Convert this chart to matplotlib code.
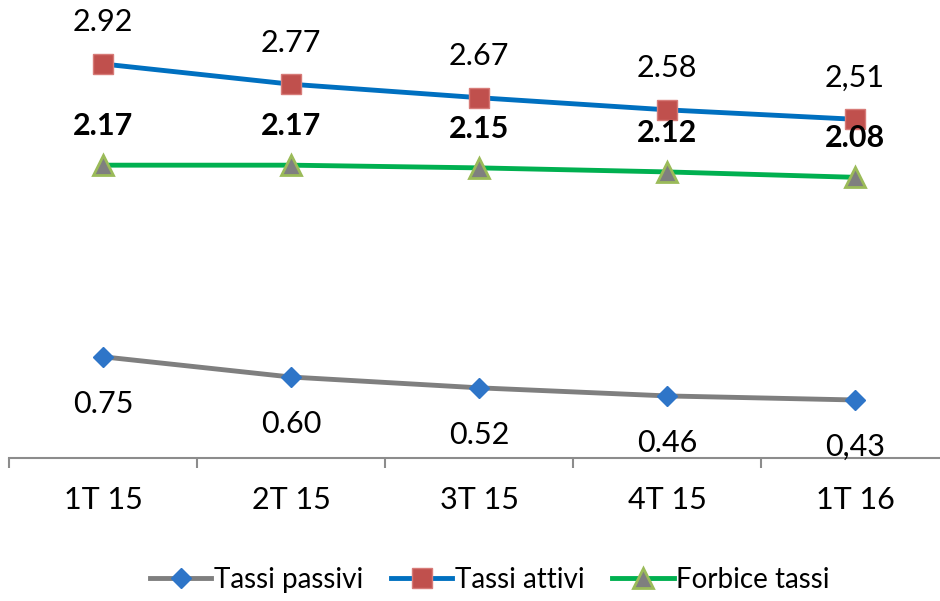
import matplotlib
matplotlib.use("Agg")
import matplotlib.pyplot as plt

# dati
trimestri = ["1T 15", "2T 15", "3T 15", "4T 15", "1T 16"]
tassi_passivi = [0.75, 0.60, 0.52, 0.46, 0.43]
tassi_attivi = [2.92, 2.77, 2.67, 2.58, 2.51]
forbice_tassi = [2.17, 2.17, 2.15, 2.12, 2.08]
lab_passivi = ["0.75", "0.60", "0.52", "0.46", "0,43"]
lab_attivi = ["2.92", "2.77", "2.67", "2.58", "2,51"]
lab_forbice = ["2.17", "2.17", "2.15", "2.12", "2.08"]

plt.rcParams['font.family'] = ['Lato', 'DejaVu Sans']

fig = plt.figure(figsize=(9.4, 6.01), dpi=100)
ax = fig.add_axes([9 / 940, 1 - 458 / 601, 931 / 940, 458 / 601])
x = list(range(len(trimestri)))

ax.plot(x, tassi_passivi, color='#7F7F7F', lw=3.5, marker='D', ms=10,
        mfc='#2E75C8', mec='#2E75C8', label='Tassi passivi', zorder=3)
ax.plot(x, tassi_attivi, color='#0070C0', lw=3.5, marker='s', ms=14,
        mfc='#C0504D', mec='#D77B78', mew=1, label='Tassi attivi', zorder=3)
ax.plot(x, forbice_tassi, color='#00B050', lw=3.5, marker='^', ms=14,
        mfc='#7F7F7F', mec='#9BBB59', mew=2, label='Forbice tassi', zorder=3)

# etichette dei valori
for i in x:
    ax.annotate(lab_attivi[i], (i, tassi_attivi[i]), xytext=(0, 30),
                textcoords='offset points', ha='center', va='center', fontsize=22)
    ax.annotate(lab_forbice[i], (i, forbice_tassi[i]), xytext=(0, 28),
                textcoords='offset points', ha='center', va='center',
                fontsize=22, fontweight='bold', zorder=4)
    ax.annotate(lab_passivi[i], (i, tassi_passivi[i]), xytext=(0, -34),
                textcoords='offset points', ha='center', va='center', fontsize=22)

ax.set_yticks([])
for s in ['top', 'right', 'left']:
    ax.spines[s].set_visible(False)
ax.spines['bottom'].set_color('#8C8C8C')
ax.spines['bottom'].set_linewidth(1.5)

ax.set_xticks([i - 0.5 for i in x])
ax.set_xticklabels([])
ax.tick_params(axis='x', length=7, width=1.5, color='#8C8C8C')
ax.set_xticks(x, minor=True)
ax.set_xticklabels(trimestri, minor=True, fontsize=22)
ax.tick_params(axis='x', which='minor', length=0, pad=20)
ax.set_xlim(-0.5, 4.452)
ax.set_ylim(0, 3.394)

fig.legend(loc='center', bbox_to_anchor=(490 / 940, 1 - 580 / 601), ncol=3,
           frameon=False, fontsize=20, handlelength=2.2, handletextpad=0.1,
           columnspacing=1.0)

fig.savefig("out.png", dpi=100)
